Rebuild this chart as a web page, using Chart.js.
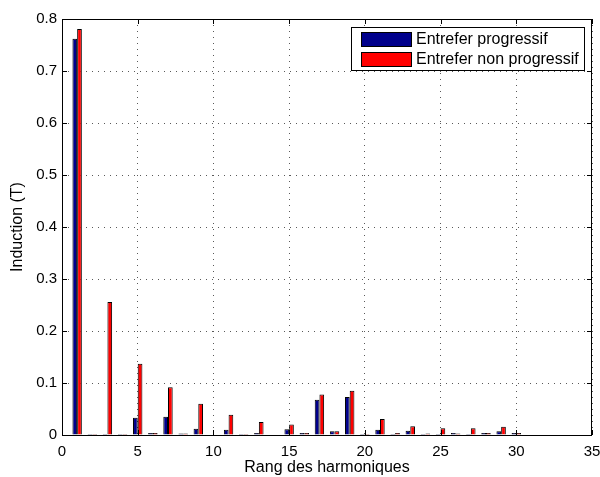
<!DOCTYPE html>
<html>
<head>
<meta charset="utf-8">
<script src="https://cdn.jsdelivr.net/npm/chart.js@4"></script>
<style>
  html, body { margin: 0; padding: 0; background: #ffffff; }
  #wrap { width: 600px; height: 477px; }
</style>
</head>
<body>
<div id="wrap"><canvas id="c" width="600" height="477"></canvas></div>
<script>
// ---- data ----
const harmonics = [1,2,3,4,5,6,7,8,9,10,11,12,13,14,15,16,17,18,19,20,21,22,23,24,25,26,27,28,29,30];
const progressif = [0.762,0.002,0.002,0.002,0.033,0.004,0.035,0.003,0.012,0.001,0.010,0.002,0.004,0.001,0.011,0.004,0.068,0.007,0.073,0.002,0.010,0.002,0.008,0.002,0.002,0.004,0.002,0.004,0.007,0.004];
const nonProgressif = [0.781,0.002,0.256,0.002,0.137,0.004,0.092,0.003,0.060,0.001,0.039,0.002,0.025,0.001,0.020,0.004,0.078,0.007,0.085,0.002,0.031,0.004,0.017,0.003,0.013,0.003,0.013,0.004,0.016,0.004];
const seriesLabels = ["Entrefer progressif", "Entrefer non progressif"];
const xTitle = "Rang des harmoniques";
const yTitle = "Induction (T)";

const FONT = "'Liberation Sans', Arial, Helvetica, sans-serif";

const frame = {
  id: 'frame',
  afterDraw(chart) {
    const ctx = chart.ctx;
    const a = chart.chartArea;
    const xs = chart.scales.x, ys = chart.scales.y;
    ctx.save();
    ctx.strokeStyle = '#000';
    ctx.lineWidth = 1;
    ctx.strokeRect(Math.round(a.left) + 0.5, Math.round(a.top) + 0.5,
                   Math.round(a.right - a.left) - 1, Math.round(a.bottom - a.top));
    const tl = 5;
    ctx.beginPath();
    xs.ticks.forEach(t => {
      const px = Math.round(xs.getPixelForValue(t.value)) + 0.5;
      ctx.moveTo(px, a.bottom); ctx.lineTo(px, a.bottom - tl);
      ctx.moveTo(px, a.top); ctx.lineTo(px, a.top + tl);
    });
    ys.ticks.forEach(t => {
      const py = Math.round(ys.getPixelForValue(t.value)) + 0.5;
      ctx.moveTo(a.left, py); ctx.lineTo(a.left + tl, py);
      ctx.moveTo(a.right, py); ctx.lineTo(a.right - tl, py);
    });
    ctx.stroke();

    // legend box
    const lx = 351, ly = 27, lw = 233, lh = 43;
    ctx.fillStyle = '#fff';
    ctx.fillRect(lx, ly, lw, lh);
    ctx.strokeRect(lx + 0.5, ly + 0.5, lw, lh);
    ctx.font = '16px ' + FONT;
    ctx.textBaseline = 'middle';
    ctx.textAlign = 'left';
    chart.data.datasets.forEach((ds, i) => {
      const sy = 32 + i * 20;
      ctx.fillStyle = ds.backgroundColor;
      ctx.fillRect(361, sy, 50, 14);
      ctx.strokeStyle = '#000';
      ctx.strokeRect(361.5, sy + 0.5, 50, 14);
      ctx.fillStyle = '#000';
      ctx.fillText(ds.label, 416, sy + 8);
    });
    ctx.restore();
  }
};

const mk = (ys) => harmonics.map((h, i) => ({ x: h, y: ys[i] }));

new Chart(document.getElementById('c'), {
  type: 'bar',
  data: {
    datasets: [
      { label: seriesLabels[0], data: mk(progressif), backgroundColor: '#00008C', borderColor: '#000', borderWidth: 1, borderSkipped: 'bottom' },
      { label: seriesLabels[1], data: mk(nonProgressif), backgroundColor: '#FF0000', borderColor: '#000', borderWidth: 1, borderSkipped: 'bottom' }
    ]
  },
  options: {
    responsive: false,
    animation: false,
    categoryPercentage: 0.62,
    barPercentage: 1.0,
    layout: { padding: { left: 0, right: 8, top: 19, bottom: 0 } },
    plugins: { legend: { display: false }, tooltip: { enabled: false } },
    scales: {
      x: {
        type: 'linear', offset: false, min: 0, max: 35,
        afterFit: s => { s.height = 42; s.paddingRight = 0; s.paddingLeft = 0; },
        ticks: { stepSize: 5, color: '#000', padding: 8, maxRotation: 0, font: { family: FONT, size: 15 } },
        grid: { offset: false, drawTicks: false, color: 'rgba(0,0,0,0.65)', lineWidth: 1 },
        border: { display: false, dash: [1, 5] },
        title: { display: true, text: xTitle, color: '#000', font: { family: FONT, size: 16 }, padding: { top: 0, bottom: 0 } }
      },
      y: {
        min: 0, max: 0.8,
        afterFit: s => { s.width = 62; s.paddingTop = 0; s.paddingBottom = 0; },
        ticks: { stepSize: 0.1, color: '#000', padding: 5, font: { family: FONT, size: 15 },
                 callback: v => (Math.round(v * 10) / 10).toString() },
        grid: { drawTicks: false, color: 'rgba(0,0,0,0.65)', lineWidth: 1 },
        border: { display: false, dash: [1, 5] },
        title: { display: true, text: yTitle, color: '#000', font: { family: FONT, size: 16 }, padding: { top: 8, bottom: 0 } }
      }
    }
  },
  plugins: [frame]
});
</script>
</body>
</html>
